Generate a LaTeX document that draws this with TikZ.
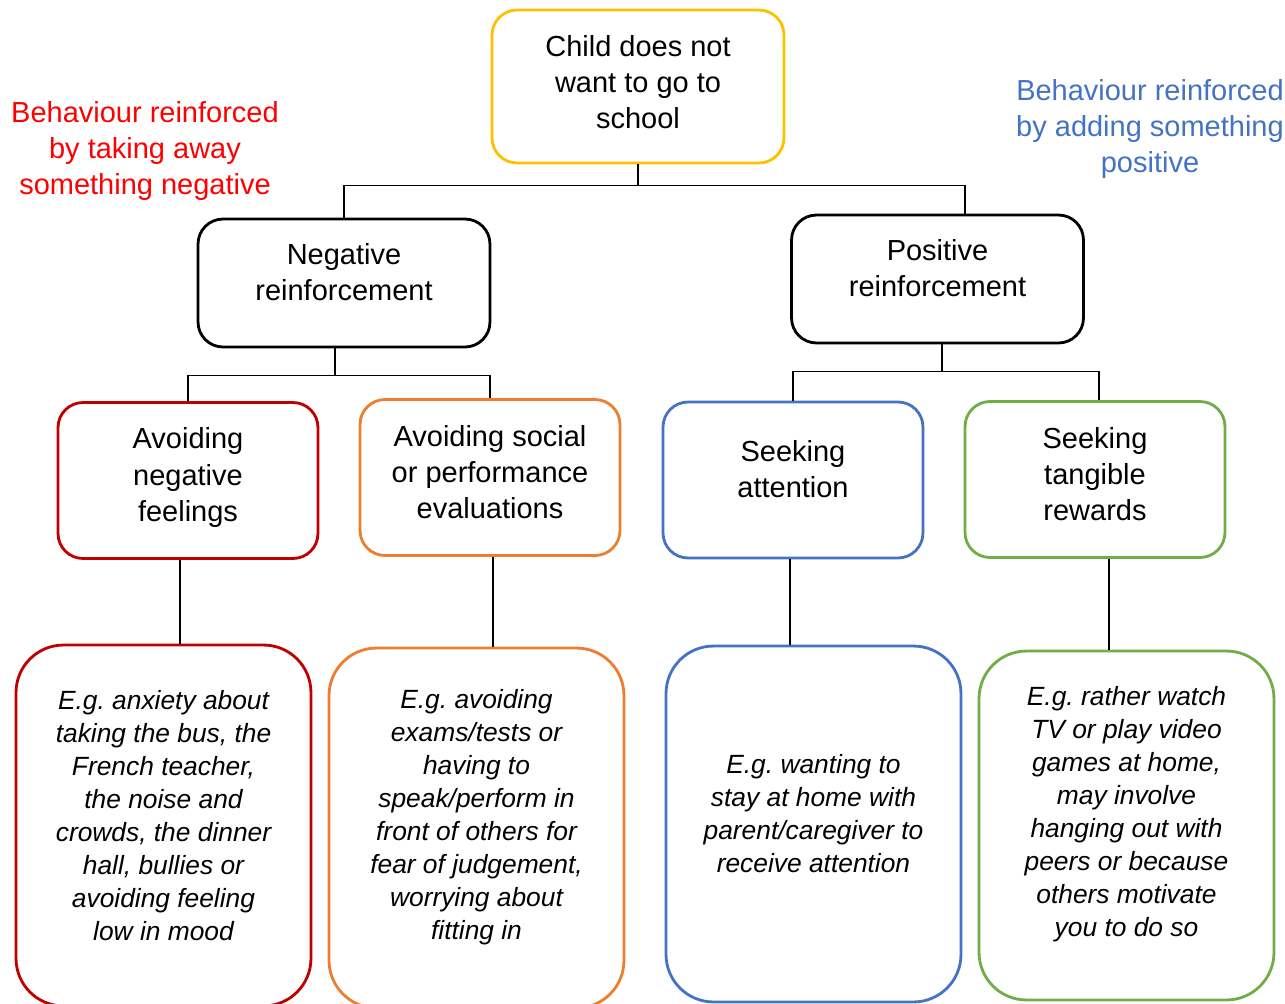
\documentclass[tikz,border=0pt]{standalone}
\usepackage{fontspec}
\setmainfont{Liberation Sans}
\usepackage{xcolor}
\usetikzlibrary{positioning, calc}
\frenchspacing

\definecolor{boxyellow}{HTML}{FFC000}
\definecolor{boxred}{HTML}{C00000}
\definecolor{boxorange}{HTML}{ED7D31}
\definecolor{boxblue}{HTML}{4472C4}
\definecolor{boxgreen}{HTML}{70AD47}
\definecolor{labelred}{HTML}{FF0000}

\begin{document}
\begin{tikzpicture}[
    x=0.02cm, y=-0.02cm,
    box/.style={rectangle, draw, line width=1.6pt, rounded corners=0.5cm, inner sep=0pt},
    topbox/.style={box, minimum width=5.84cm, minimum height=2.56cm},
    midbox/.style={box, minimum width=5.2cm, minimum height=3.12cm},
    examplebox/.style={box, rounded corners=0.95cm, minimum width=5.9cm},
    note/.style={align=center, inner sep=0pt, font=\fontsize{16.5}{20.5}\selectfont},
    example/.style={note, font=\fontsize{15}{18.8}\selectfont\itshape},
    link/.style={line width=0.6pt}
]
    \useasboundingbox (0,0) rectangle (1285,1004);

    % top of the tree
    \node [topbox, draw=boxyellow, minimum height=3.06cm] (child) at (638,86.5) {};
    \node [note] (childtext) at ([yshift=0.08cm]child) {Child does not\\want to go to\\school};
    \node [note, text=labelred] (negnote) at (145,151) {Behaviour reinforced\\by taking away\\something negative};
    \node [note, text=boxblue] (posnote) at (1150,129) {Behaviour reinforced\\by adding something\\positive};

    \node [topbox] (neg) at (344,283) {};
    \node [note] (negtext) at ([yshift=0.22cm]neg) {Negative\\reinforcement};
    \node [topbox] (pos) at (937.5,279) {};
    \node [note] (postext) at ([yshift=0.22cm]pos) {Positive\\reinforcement};

    % second row
    \node [midbox, draw=boxred] (avneg) at (188,480.5) {};
    \node [note] (avnegtext) at ([yshift=0.06cm]avneg) {Avoiding\\negative\\feelings};
    \node [midbox, draw=boxorange] (avsoc) at (490,477.5) {};
    \node [note] (avsoctext) at ([yshift=0.1cm]avsoc) {Avoiding social\\or performance\\evaluations};
    \node [midbox, draw=boxblue] (seekatt) at (793,480) {};
    \node [note] (seekatttext) at ([yshift=0.22cm]seekatt) {Seeking\\attention};
    \node [midbox, draw=boxgreen] (seekrew) at (1095,479.5) {};
    \node [note] (seekrewtext) at ([yshift=0.1cm]seekrew) {Seeking\\tangible\\rewards};

    % examples
    \node [examplebox, draw=boxred, minimum height=7.22cm] (exneg) at (163.5,825.5) {};
    \node [example] (exnegtext) at ([yshift=0.2cm]exneg) {E.g. anxiety about\\taking the bus, the\\French teacher,\\the noise and\\crowds, the dinner\\hall, bullies or\\avoiding feeling\\low in mood};
    \node [examplebox, draw=boxorange, minimum height=7.2cm] (exsoc) at (476.5,828) {};
    \node [example] (exsoctext) at ([yshift=0.21cm]exsoc) {E.g. avoiding\\exams/tests or\\having to\\speak/perform in\\front of others for\\fear of judgement,\\worrying about\\fitting in};
    \node [examplebox, draw=boxblue, minimum height=7.12cm] (exatt) at (813.5,824) {};
    \node [example] (exatttext) at ([yshift=0.2cm]exatt) {E.g. wanting to\\stay at home with\\parent/caregiver to\\receive attention};
    \node [examplebox, draw=boxgreen, minimum height=6.98cm] (exrew) at (1126.5,825.5) {};
    \node [example] (exrewtext) at ([yshift=0.23cm]exrew) {E.g. rather watch\\TV or play video\\games at home,\\may involve\\hanging out with\\peers or because\\others motivate\\you to do so};

    \draw [link] (child.south) -- ++(0,21) -| (neg.north);
    \draw [link] (child.south) -- ++(0,21) -| ([xshift=0.55cm]pos.north);

    \draw [link] ([xshift=-0.18cm]neg.south) -- ++(0,27) -| (avneg.north);
    \draw [link] ([xshift=-0.18cm]neg.south) -- ++(0,27) -| (avsoc.north);
    \draw [link] ([xshift=0.09cm]pos.south) -- ++(0,27) -| (seekatt.north);
    \draw [link] ([xshift=0.09cm]pos.south) -- ++(0,27) -| ([xshift=0.08cm]seekrew.north);

    \draw [link] ([xshift=-0.16cm]avneg.south) -- ([xshift=-0.16cm]avneg.south |- exneg.north);
    \draw [link] ([xshift=0.06cm]avsoc.south) -- ([xshift=0.06cm]avsoc.south |- exsoc.north);
    \draw [link] ([xshift=-0.06cm]seekatt.south) -- ([xshift=-0.06cm]seekatt.south |- exatt.north);
    \draw [link] ([xshift=0.28cm]seekrew.south) -- ([xshift=0.28cm]seekrew.south |- exrew.north);
\end{tikzpicture}
\end{document}
